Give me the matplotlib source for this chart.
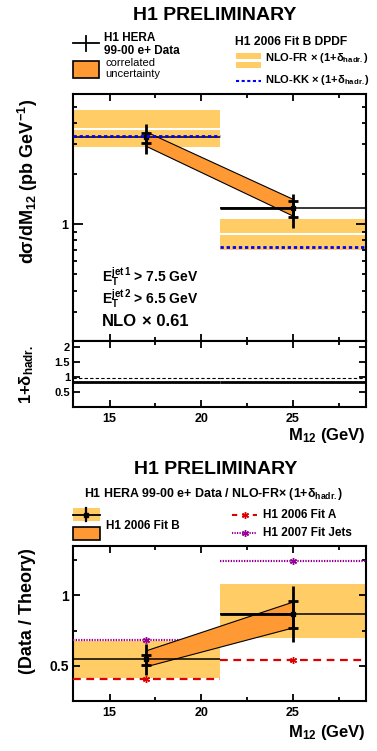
import matplotlib
matplotlib.use("Agg")
import matplotlib.pyplot as plt
from matplotlib.patches import Rectangle
import numpy as np

plt.rcParams['font.family'] = ['Liberation Sans', 'DejaVu Sans']
plt.rcParams['mathtext.fontset'] = 'custom'
plt.rcParams['mathtext.rm'] = 'Liberation Sans'
plt.rcParams['mathtext.bf'] = 'Liberation Sans:bold'
plt.rcParams['mathtext.it'] = 'Liberation Sans'
plt.rcParams['mathtext.default'] = 'regular'

# ---------------- data ----------------
bin_edges = [13, 21, 29]
x_pts = [17, 25]

# top panel: cross section (pb/GeV)
xs_data = [3.31, 1.24]
xs_tot_up = [3.95, 1.52]
xs_tot_dn = [2.64, 0.954]
xs_stat_up = [3.51, 1.37]
xs_stat_dn = [3.07, 1.11]
xs_corr_top = [3.56, 1.41]
xs_corr_bot = [2.92, 1.12]
nlofr_c = [3.71, 0.878]
nlofr_up = [4.81, 1.08]
nlofr_dn = [2.89, 0.70]
nlokk = [3.36, 0.733]

# hadronisation correction panel
hadr_fr = [0.84, 0.84]
hadr_kk = [0.97, 0.97]

# bottom panel: ratio data / theory
r_data = [0.547, 0.864]
r_tot_up = [0.655, 1.063]
r_tot_dn = [0.437, 0.667]
r_stat_up = [0.577, 0.958]
r_stat_dn = [0.507, 0.770]
r_corr_top = [0.606, 0.951]
r_corr_bot = [0.493, 0.768]
r_fitb_up = [0.676, 1.077]
r_fitb_dn = [0.413, 0.700]
r_fita = [0.408, 0.542]
r_jets = [0.683, 1.246]

YELLOW = '#FFCC66'
ORANGE = '#FF9933'
BLUE = '#0000FF'
RED = '#DD0000'
MAG = '#990099'

W, H = 377, 751
fig = plt.figure(figsize=(W / 100, H / 100), dpi=100)


def rect(l, t, r, b):
    return [l / W, 1 - b / H, (r - l) / W, (b - t) / H]


def style_ax(ax):
    for s in ax.spines.values():
        s.set_linewidth(1.5)
    ax.tick_params(which='both', direction='in', top=True, right=True, width=1.3,
                   labelsize=9)
    ax.tick_params(which='major', length=5)
    ax.tick_params(which='minor', length=3)
    for lab in ax.get_xticklabels() + ax.get_yticklabels():
        lab.set_fontweight('bold')


def draw_data(ax, data, tot_up, tot_dn, st_up, st_dn, ctop, cbot):
    # correlated uncertainty band
    px = [x_pts[0], x_pts[1], x_pts[1], x_pts[0]]
    py = [ctop[0], ctop[1], cbot[1], cbot[0]]
    ax.fill(px, py, facecolor=ORANGE, edgecolor='black', lw=0.8, zorder=4)
    # horizontal bin lines
    for i in range(2):
        ax.hlines(data[i], bin_edges[i], bin_edges[i + 1], color='black', lw=1.1, zorder=5)
    ax.hlines(data[1], bin_edges[1], x_pts[1], color='black', lw=2.0, zorder=5)
    d = np.array(data)
    ax.errorbar(x_pts, d, yerr=[d - np.array(tot_dn), np.array(tot_up) - d], fmt='none',
                ecolor='black', elinewidth=2.0, capsize=0, zorder=6)
    ax.errorbar(x_pts, d, yerr=[d - np.array(st_dn), np.array(st_up) - d], fmt='s',
                color='black', ms=3, elinewidth=2.0, capsize=3.5, capthick=2.0, zorder=6)


# ---------------- top panel ----------------
ax1 = fig.add_axes(rect(73, 94, 366, 341))
ax1.set_yscale('log')
ax1.set_xlim(13, 29)
ax1.set_ylim(0.2, 6.0)
for i in range(2):
    ax1.fill_between([bin_edges[i], bin_edges[i + 1]], nlofr_dn[i], nlofr_up[i],
                     color=YELLOW, lw=0, zorder=1)
    ax1.hlines(nlofr_c[i], bin_edges[i], bin_edges[i + 1], color='white', lw=1.5, zorder=2)
    ax1.hlines(nlokk[i], bin_edges[i], bin_edges[i + 1], color=BLUE, lw=2.0,
               linestyles=(0, (1.2, 1.0)), zorder=7)
draw_data(ax1, xs_data, xs_tot_up, xs_tot_dn, xs_stat_up, xs_stat_dn, xs_corr_top, xs_corr_bot)
ax1.set_yticks([1])
ax1.set_yticklabels(['1'], fontsize=11, fontweight='bold')
ax1.set_yticks([0.2, 0.3, 0.4, 0.5, 0.6, 0.7, 0.8, 0.9, 2, 3, 4, 5], minor=True)
ax1.yaxis.set_minor_formatter(matplotlib.ticker.NullFormatter())
ax1.set_xticks([15, 20, 25])
ax1.set_xticks([17.5, 22.5, 27.5], minor=True)
ax1.set_xticklabels([])
style_ax(ax1)
ax1.tick_params(axis='y', which='major', length=7)
fig.text(28 / W, 1 - 181 / H, r'dσ/dM$_{12}$ (pb GeV$^{-1}$)', rotation=90, ha='center',
         va='center', fontsize=13, fontweight='bold')
ax1.text(0.10, 0.235, r'E$_{T}^{jet\,1}$ > 7.5 GeV', transform=ax1.transAxes, fontsize=10,
         fontweight='bold', va='baseline')
ax1.text(0.10, 0.145, r'E$_{T}^{jet\,2}$ > 6.5 GeV', transform=ax1.transAxes, fontsize=10,
         fontweight='bold', va='baseline')
ax1.text(0.10, 0.06, 'NLO', transform=ax1.transAxes, fontsize=12, fontweight='bold',
         va='baseline')
ax1.text(0.235, 0.06, '× 0.61', transform=ax1.transAxes, fontsize=12, fontweight='bold',
         va='baseline')

# ---------------- hadronisation panel ----------------
ax2 = fig.add_axes(rect(73, 341, 366, 407))
ax2.set_xlim(13, 29)
ax2.set_ylim(0.0, 2.2)
for i in range(2):
    ax2.hlines(hadr_fr[i], bin_edges[i], bin_edges[i + 1], color='black', lw=2.0)
    ax2.hlines(hadr_kk[i], bin_edges[i], bin_edges[i + 1], color='black', lw=0.8,
               linestyles=(0, (3, 2)))
ax2.set_yticks([0.5, 1, 1.5, 2])
ax2.set_yticklabels(['0.5', '1', '1.5', '2'])
ax2.set_xticks([15, 20, 25])
ax2.set_xticks([17.5, 22.5, 27.5], minor=True)
style_ax(ax2)
ax2.tick_params(axis='y', labelsize=8, pad=2)
ax2.tick_params(axis='x', labelsize=9, pad=4)
fig.text(27 / W, 1 - 375 / H, r'1+δ$_{hadr.}$', rotation=90, ha='center', va='center',
         fontsize=12, fontweight='bold')
fig.text(366 / W, 1 - 435 / H, r'M$_{12}$ (GeV)', ha='right', va='center', fontsize=12,
         fontweight='bold')

# ---------------- ratio panel ----------------
ax3 = fig.add_axes(rect(73, 546, 366, 701))
ax3.set_xlim(13, 29)
ax3.set_ylim(0.25, 1.35)
for i in range(2):
    ax3.fill_between([bin_edges[i], bin_edges[i + 1]], r_fitb_dn[i], r_fitb_up[i],
                     color=YELLOW, lw=0, zorder=1)
    ax3.hlines(r_fita[i], bin_edges[i], bin_edges[i + 1], color=RED, lw=1.6,
               linestyles=(0, (3.5, 2.5)), zorder=3)
    ax3.hlines(r_jets[i], bin_edges[i], bin_edges[i + 1], color=MAG, lw=1.6,
               linestyles=(0, (0.6, 0.6)), zorder=3)
ax3.plot(x_pts, r_fita, ls='none', marker=(6, 2, 0), ms=5, mew=1.0, color=RED, zorder=3)
ax3.plot(x_pts, r_jets, ls='none', marker=(6, 2, 0), ms=5, mew=1.0, color=MAG, zorder=3)
draw_data(ax3, r_data, r_tot_up, r_tot_dn, r_stat_up, r_stat_dn, r_corr_top, r_corr_bot)
ax3.set_yticks([0.5, 1])
ax3.set_yticklabels(['0.5', '1'])
ax3.set_yticks([0.75, 1.25], minor=True)
ax3.set_xticks([15, 20, 25])
ax3.set_xticks([17.5, 22.5, 27.5], minor=True)
style_ax(ax3)
ax3.tick_params(axis='y', labelsize=10, pad=3)
ax3.tick_params(axis='x', labelsize=9, pad=4)
fig.text(27 / W, 1 - 611 / H, '(Data / Theory)', rotation=90, ha='center', va='center',
         fontsize=13, fontweight='bold')
fig.text(366 / W, 1 - 733 / H, r'M$_{12}$ (GeV)', ha='right', va='center', fontsize=12,
         fontweight='bold')

# ---------------- titles and legends (overlay in pixel coords) ----------------
lg = fig.add_axes([0, 0, 1, 1], zorder=10)
lg.set_xlim(0, W)
lg.set_ylim(H, 0)
lg.axis('off')

lg.text(215, 16, 'H1 PRELIMINARY', ha='center', va='center', fontsize=14, fontweight='bold')
# data legend
lg.plot([73, 99], [43, 43], color='black', lw=1.3)
lg.plot([86, 86], [36, 51], color='black', lw=1.3)
lg.text(104, 38, 'H1 HERA', fontsize=8.5, fontweight='bold', va='center')
lg.text(104, 51, '99-00 e+ Data', fontsize=8.5, fontweight='bold', va='center')
lg.add_patch(Rectangle((73, 61), 26, 17, facecolor=ORANGE, edgecolor='black', lw=1.2))
lg.text(105, 63, 'correlated', fontsize=8, va='center')
lg.text(105, 74, 'uncertainty', fontsize=8, va='center')
# theory legend
lg.text(235, 42, 'H1 2006 Fit B DPDF', fontsize=8.7, fontweight='bold', va='center')
lg.add_patch(Rectangle((236, 53), 25, 5.5, facecolor=YELLOW, lw=0))
lg.add_patch(Rectangle((236, 62), 25, 5.5, facecolor=YELLOW, lw=0))
lg.text(265, 58, r'NLO-FR × (1+δ$_{hadr.}$)', fontsize=8, fontweight='bold', va='center')
lg.plot([236, 261], [81, 81], color=BLUE, lw=1.5, ls=(0, (1.5, 1.2)))
lg.text(265, 80, r'NLO-KK × (1+δ$_{hadr.}$)', fontsize=8, fontweight='bold', va='center')

# bottom titles
lg.text(216, 469, 'H1 PRELIMINARY', ha='center', va='center', fontsize=14, fontweight='bold')
lg.text(214, 494, r'H1 HERA 99-00 e+ Data / NLO-FR× (1+δ$_{hadr.}$)', ha='center',
        va='center', fontsize=8.9, fontweight='bold')
lg.add_patch(Rectangle((73, 508), 27, 13, facecolor=YELLOW, lw=0))
lg.plot([73, 100], [514.5, 514.5], color='black', lw=1.3)
lg.plot([86, 86], [508, 521], color='black', lw=1.6)
lg.plot([86], [514.5], 's', color='black', ms=2.5)
lg.add_patch(Rectangle((73, 527), 27, 12.5, facecolor=ORANGE, edgecolor='black', lw=1.2))
lg.text(106, 526, 'H1 2006 Fit B', fontsize=8.5, fontweight='bold', va='center')
lg.plot([232, 257], [515, 515], color=RED, lw=1.5, ls=(0, (2.5, 2.5)))
lg.plot([245], [515], marker=(6, 2, 0), ms=5, color=RED, mew=1.0)
lg.text(263, 515, 'H1 2006 Fit A', fontsize=8.5, fontweight='bold', va='center')
lg.plot([232, 257], [533, 533], color=MAG, lw=1.5, ls=(0, (0.6, 0.6)))
lg.plot([245], [533], marker=(6, 2, 0), ms=5, color=MAG, mew=1.0)
lg.text(263, 533, 'H1 2007 Fit Jets', fontsize=8.5, fontweight='bold', va='center')

fig.savefig('out.png', dpi=100)
